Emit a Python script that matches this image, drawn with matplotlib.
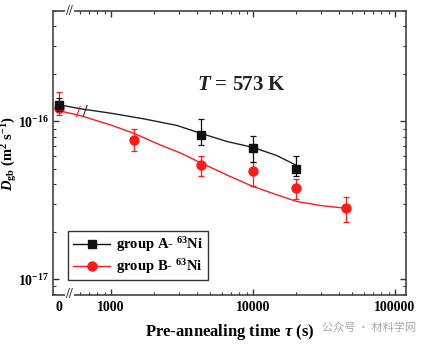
import numpy as np
import matplotlib
matplotlib.use("Agg")
import matplotlib.pyplot as plt
from matplotlib.ticker import FixedLocator, NullFormatter, FixedFormatter
from matplotlib.transforms import blended_transform_factory

# ---------------- data ----------------
a_x = [0, 4300, 10000, 20000]
a_y = [1.27e-16, 8.24e-17, 6.78e-17, 4.99e-17]
a_lo = [1.16e-16, 7.05e-17, 5.57e-17, 4.48e-17]
a_hi = [1.40e-16, 1.04e-16, 8.03e-17, 6.06e-17]

b_x = [0, 1440, 4300, 10000, 20000, 45000]
b_y = [1.22e-16, 7.65e-17, 5.26e-17, 4.82e-17, 3.78e-17, 2.82e-17]
b_lo = [1.10e-16, 6.52e-17, 4.48e-17, 3.91e-17, 3.22e-17, 2.29e-17]
b_hi = [1.53e-16, 8.95e-17, 6.00e-17, 5.50e-17, 4.32e-17, 3.34e-17]

a_fit_x = [0, 605, 984, 1690, 2900, 4240, 6530, 10050, 14700, 20300]
a_fit_y = [1.276e-16, 1.205e-16, 1.13e-16, 1.04e-16, 9.44e-17, 8.44e-17, 7.47e-17,
           6.84e-17, 6.08e-17, 5.26e-17]

b_fit_x = [0, 605, 984, 1440, 2210, 3100, 4230, 6900, 10000, 14700, 20300, 30000, 44500]
b_fit_y = [1.17e-16, 1.09e-16, 9.53e-17, 8.43e-17, 7.11e-17, 6.30e-17, 5.50e-17, 4.48e-17,
           3.87e-17, 3.43e-17, 3.11e-17, 2.93e-17, 2.82e-17]

x_ticks = [0, 1000, 10000, 100000]
x_ticklabels = ["0", "1000", "10000", "100000"]
x_minor = [600, 700, 800, 900] + [k * 1000 for k in range(2, 10)] + [k * 10000 for k in range(2, 10)]
y_ticks = [1e-17, 1e-16]
y_ticklabels = [r"$\mathbf{10^{-17}}$", r"$\mathbf{10^{-16}}$"]

labels = ["group A- $^{63}$Ni", "group B- $^{63}$Ni"]
annot = r"$T$ = 573 K"
xlabel = r"Pre-annealing time $\tau$ (s)"
ylabel = r"$D_{\mathrm{gb}}$ (m$^{2}$ s$^{-1}$)"
watermark = "公众号 · 材料学网"

BREAK_X = 510

# ---------------- style ----------------
plt.rcParams["font.family"] = ["Liberation Serif", "DejaVu Serif"]
plt.rcParams["font.weight"] = "bold"
plt.rcParams["mathtext.fontset"] = "custom"
plt.rcParams["mathtext.rm"] = "Liberation Serif:bold"
plt.rcParams["mathtext.bf"] = "Liberation Serif:bold"
plt.rcParams["mathtext.it"] = "Liberation Serif:italic:bold"

# broken x scale: linear near 0, log from 500 upward
P0 = 2.634
PL = np.log10(500.0)


def fwd(x):
    x = np.asarray(x, dtype=float)
    lin = P0 + x * (PL - P0) / 500.0
    lg = np.log10(np.clip(x, 500.0, None))
    return np.where(x < 500.0, lin, lg)


def inv(p):
    p = np.asarray(p, dtype=float)
    lin = (p - P0) * 500.0 / (PL - P0)
    lg = 10 ** np.clip(p, PL, 12)
    return np.where(p < PL, lin, lg)


fig = plt.figure(figsize=(4.31, 3.45), dpi=100)
ax = fig.add_axes([0.123, 0.145, 0.819, 0.823])
ax.set_xscale("function", functions=(fwd, inv))
ax.set_yscale("log")

BLACK = "#111111"
RED = "#ff1a1a"

ax.plot(a_fit_x, a_fit_y, color="#222222", lw=1.0, zorder=2)
ax.plot(b_fit_x, b_fit_y, color=RED, lw=1.0, zorder=2)

a_err = [np.array(a_y) - np.array(a_lo), np.array(a_hi) - np.array(a_y)]
b_err = [np.array(b_y) - np.array(b_lo), np.array(b_hi) - np.array(b_y)]
ax.errorbar(b_x, b_y, yerr=b_err, fmt="o", color=RED, ms=6.5, capsize=2.5,
            elinewidth=0.9, capthick=0.9, zorder=3)
ax.errorbar(a_x, a_y, yerr=a_err, fmt="s", color=BLACK, ms=6, capsize=2.5,
            elinewidth=0.9, capthick=0.9, zorder=4)

# legend proxies
h1, = ax.plot([], [], "-s", color=BLACK, ms=6, lw=1.0)
h2, = ax.plot([], [], "-o", color=RED, ms=6.5, lw=1.0)
leg = ax.legend([h1, h2], labels, loc="lower left", bbox_to_anchor=(0.043, 0.052),
                borderaxespad=0, fancybox=False, edgecolor="#333333", fontsize=10.5,
                handlelength=2.6, handletextpad=0.4, borderpad=0.3, labelspacing=0.2,
                framealpha=1)
leg.get_frame().set_linewidth(1.0)

ax.set_xlim(-327, 119500)
ax.set_ylim(10 ** -17.1, 10 ** -15.3)

ax.xaxis.set_major_locator(FixedLocator(x_ticks))
ax.xaxis.set_major_formatter(FixedFormatter(x_ticklabels))
ax.xaxis.set_minor_locator(FixedLocator(x_minor))
ax.xaxis.set_minor_formatter(NullFormatter())
ax.yaxis.set_major_locator(FixedLocator(y_ticks))
ax.yaxis.set_major_formatter(FixedFormatter(y_ticklabels))
ax.yaxis.set_minor_formatter(NullFormatter())

ax.tick_params(which="both", direction="in", top=True, right=True, color="#333333",
               labelsize=10)
ax.tick_params(which="major", length=4, width=1.0, pad=4)
ax.tick_params(which="minor", length=2, width=0.8)
ax.tick_params(axis="y", which="major", pad=3)
for t in ax.xaxis.get_major_ticks()[:1]:
    t.tick1line.set_visible(False)
    t.tick2line.set_visible(False)

for s in ax.spines.values():
    s.set_color("#444444")
    s.set_linewidth(1.2)

ax.set_xlabel(xlabel, fontsize=12, fontweight="bold")
ax.xaxis.set_label_coords(0.5, -0.095)
ax.set_ylabel(ylabel, fontsize=10.5, fontweight="bold")
ax.yaxis.set_label_coords(-0.097, 0.5)

ax.text(0.535, 0.738, annot, transform=ax.transAxes, ha="center", va="center",
        fontsize=15, fontweight="bold", color="#222222")

# axis break markers
bt = blended_transform_factory(ax.transData, ax.transAxes)
for yy in (0.0, 1.0):
    ax.text(BREAK_X, yy, "//", transform=bt, ha="center", va="center", fontsize=10,
            color="#333333", clip_on=False, zorder=6,
            bbox=dict(boxstyle="square,pad=0.05", fc="white", ec="none"))
ax.text(580, 1.13e-16, "/", ha="center", va="center", fontsize=12, color=RED, zorder=6)
ax.text(650, 1.15e-16, "/", ha="center", va="center", fontsize=12, color="#222222", zorder=6)

fig.text(0.965, 0.05, watermark, ha="right", va="center", fontsize=8,
         color="#a8a8a8", family=["Noto Sans CJK SC", "DejaVu Sans"], fontweight="normal")

fig.savefig("out.png", dpi=100)
